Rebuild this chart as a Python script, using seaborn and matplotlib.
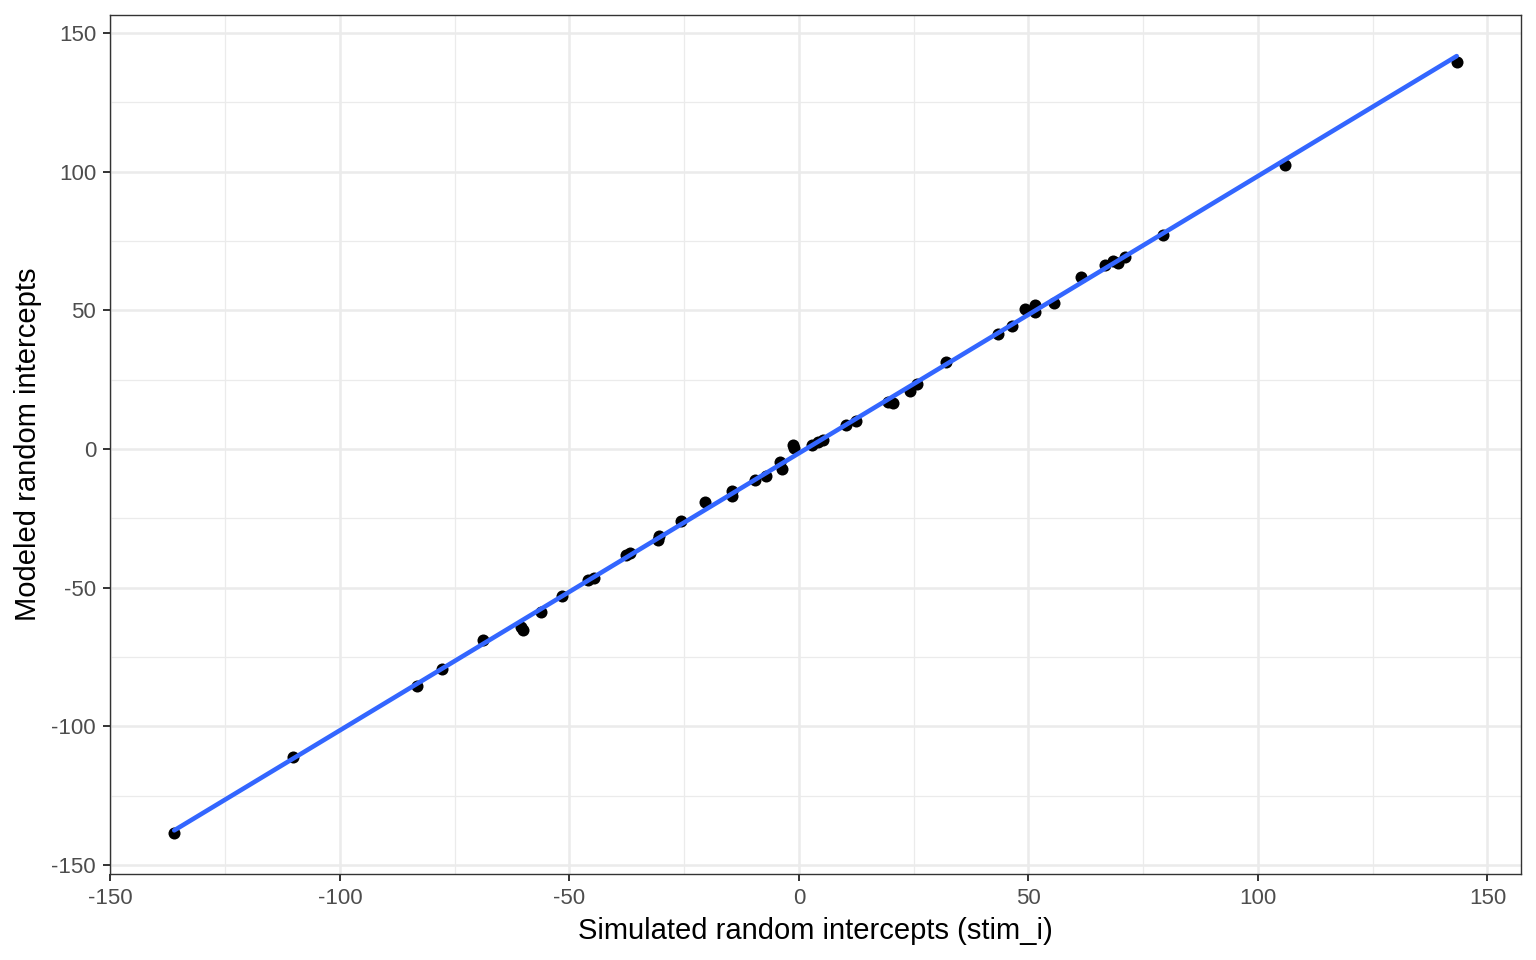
import pandas as pd
import matplotlib
matplotlib.use("Agg")
import matplotlib.pyplot as plt
import seaborn as sns

# simulated vs modeled random intercepts
sim_x = [-136.1, -110.2, -83.2, -77.7, -68.8, -60.5, -60.1, -56.2, -51.6, -45.9,
         -44.6, -37.7, -36.8, -30.7, -30.5, -25.7, -20.5, -14.6, -14.5, -9.6,
         -7.2, -4.1, -3.7, -1.3, -1.0, 2.8, 4.1, 5.2, 10.2, 12.4,
         19.4, 20.5, 24.2, 25.7, 32.0, 43.3, 46.4, 49.2, 51.4, 51.5,
         55.5, 61.4, 66.6, 68.4, 69.5, 71.0, 79.3, 105.8, 143.3]
mod_y = [-138.5, -111.1, -85.5, -79.3, -68.9, -64.2, -65.3, -58.8, -53.0, -47.2,
         -46.5, -38.2, -37.5, -32.8, -31.4, -26.0, -19.1, -15.1, -16.9, -11.2,
         -9.7, -4.7, -7.2, 1.4, 0.2, 1.4, 2.5, 3.2, 8.7, 10.1,
         16.9, 16.6, 20.9, 23.4, 31.2, 41.6, 44.4, 50.5, 51.9, 49.4,
         52.6, 62.0, 66.4, 67.8, 67.1, 69.2, 77.2, 102.4, 139.6]

df = pd.DataFrame({"stim_i": sim_x, "modeled": mod_y})

sns.set_style("white")
plt.rcParams["font.family"] = ["Liberation Sans", "DejaVu Sans"]
plt.rcParams["axes.unicode_minus"] = False

fig = plt.figure(figsize=(15.36, 9.6), dpi=100)
ax = fig.add_axes([0.0716, 0.0896, 0.9186, 0.8948])

ticks = [-150, -100, -50, 0, 50, 100, 150]
minor = [-125, -75, -25, 25, 75, 125]
ax.set_xticks(ticks)
ax.set_yticks(ticks)
ax.set_xticks(minor, minor=True)
ax.set_yticks(minor, minor=True)
ax.grid(True, which="major", color="#EBEBEB", linewidth=1.8)
ax.grid(True, which="minor", color="#EBEBEB", linewidth=0.9)
ax.set_axisbelow(True)

sns.scatterplot(data=df, x="stim_i", y="modeled", color="black", s=75,
                linewidth=0, ax=ax, zorder=3)
sns.regplot(data=df, x="stim_i", y="modeled", scatter=False, ci=None,
            color="#3366FF", line_kws={"linewidth": 3.3, "zorder": 4}, ax=ax)

ax.set_xlim(-150.1, 157.3)
ax.set_ylim(-153.3, 156.5)

for s in ax.spines.values():
    s.set_color("#333333")
    s.set_linewidth(1.0)

ax.tick_params(which="major", length=5, width=1.4, color="#333333",
               labelcolor="#4D4D4D", labelsize=16, direction="out", pad=5,
               bottom=True, left=True)
ax.tick_params(which="minor", length=0)
ax.set_xlabel("Simulated random intercepts (stim_i)", fontsize=21,
              color="black", labelpad=6)
ax.set_ylabel("Modeled random intercepts", fontsize=21, color="black",
              labelpad=7)

fig.savefig("out.png", dpi=100)
